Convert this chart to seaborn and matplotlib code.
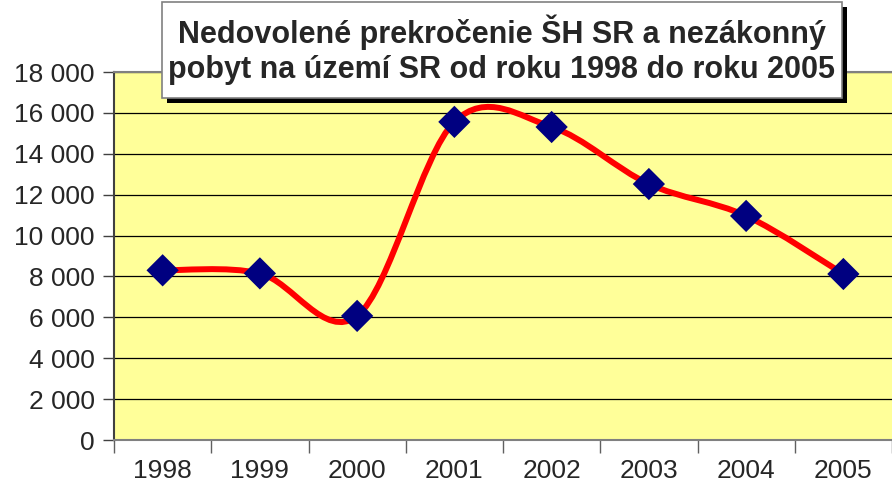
import numpy as np
import pandas as pd
import seaborn as sns
import matplotlib.pyplot as plt
from matplotlib.path import Path
from matplotlib.patches import PathPatch, Rectangle
from matplotlib.ticker import FuncFormatter, FixedLocator

# %% data
years = ["1998", "1999", "2000", "2001", "2002", "2003", "2004", "2005"]
cases = [8300, 8150, 6070, 15560, 15310, 12520, 10960, 8120]
title = "Nedovolené prekročenie ŠH SR a nezákonný\npobyt na území SR od roku 1998 do roku 2005"

df = pd.DataFrame({"rok": years, "pocet": cases})
df["pos"] = np.arange(len(df))

sns.set_style("white")
plt.rcParams["font.family"] = ["Liberation Sans", "DejaVu Sans"]

W, H = 892, 492
fig = plt.figure(figsize=(W / 100, H / 100), dpi=100)
ax = fig.add_axes([114 / W, (H - 440) / H, (892 - 114) / W, (440 - 72) / H])
ax.set_facecolor("#FFFF99")


# %% smoothed line (Excel-like catmull-rom as bezier path)
def smooth_path(x, y):
    p = np.column_stack([x, y]).astype(float)
    ext = np.vstack([p[0], p, p[-1]])
    verts = [p[0]]
    codes = [Path.MOVETO]
    for i in range(len(p) - 1):
        p0, p1, p2, p3 = ext[i], ext[i + 1], ext[i + 2], ext[i + 3]
        verts += [p1 + (p2 - p0) / 6, p2 - (p3 - p1) / 6, p2]
        codes += [Path.CURVE4] * 3
    return Path(verts, codes)


ax.add_patch(
    PathPatch(
        smooth_path(df["pos"], df["pocet"]),
        facecolor="none",
        edgecolor="#FF0000",
        lw=4.3,
        capstyle="round",
        joinstyle="round",
        zorder=3,
    )
)
sns.scatterplot(
    data=df,
    x="pos",
    y="pocet",
    marker="D",
    s=270,
    color="#000080",
    edgecolor="none",
    zorder=4,
    ax=ax,
)

# %% axes
ax.set_xlim(-0.5, len(years) - 0.5)
ax.set_ylim(0, 18000)
ax.set_yticks(np.arange(0, 18001, 2000))
ax.yaxis.set_major_formatter(FuncFormatter(lambda v, _: f"{int(v):,}".replace(",", " ")))
ax.xaxis.set_major_locator(FixedLocator(np.arange(-0.5, len(years), 1)))
ax.xaxis.set_minor_locator(FixedLocator(np.arange(len(years))))
ax.set_xticklabels([""] * (len(years) + 1))
ax.set_xticklabels(years, minor=True, fontsize=19)
ax.tick_params(axis="x", which="major", direction="out", length=9, width=1, color="#606060", bottom=True)
ax.tick_params(axis="x", which="minor", length=0, pad=14)
ax.tick_params(axis="y", direction="out", length=8, width=1, color="#404040", left=True, labelsize=19, pad=6)
ax.grid(axis="y", color="black", lw=0.9)
ax.grid(axis="x", visible=False)
ax.set_axisbelow(True)
ax.set_xlabel("")
ax.set_ylabel("")
ax.spines["left"].set_color("#404040")
ax.spines["left"].set_linewidth(1.5)
ax.spines["bottom"].set_color("#808080")
ax.spines["bottom"].set_linewidth(1.5)
ax.spines["top"].set_color("#808080")
ax.spines["top"].set_linewidth(1.5)
ax.spines["right"].set_visible(False)

# %% title box with shadow
bx0, bx1, by0, by1 = 162, 842, 2, 98
fig.patches.append(
    Rectangle(((bx0 + 5) / W, (H - by1 - 5) / H), (bx1 - bx0) / W, (by1 - by0) / H,
              transform=fig.transFigure, facecolor="black", edgecolor="none", zorder=5)
)
fig.patches.append(
    Rectangle((bx0 / W, (H - by1) / H), (bx1 - bx0) / W, (by1 - by0) / H,
              transform=fig.transFigure, facecolor="white", edgecolor="#808080", lw=1.2, zorder=6)
)
fig.text(
    (bx0 + bx1) / 2 / W,
    1 - (by0 + by1) / 2 / H,
    title,
    ha="center",
    va="center",
    fontsize=22,
    fontweight="bold",
    linespacing=1.2,
    zorder=7,
)

plt.savefig("out.png", dpi=100)
